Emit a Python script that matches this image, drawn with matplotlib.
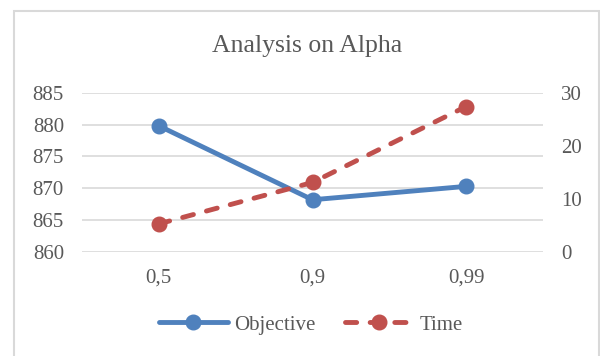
import matplotlib
matplotlib.use("Agg")
import matplotlib.pyplot as plt
from matplotlib.patches import Rectangle

# Δεδομένα του γραφήματος
alpha_labels = ["0,5", "0,9", "0,99"]
objective = [879.8, 868.2, 870.3]
time_vals = [5.3, 13.1, 27.4]

blue = "#4F81BD"
red = "#C0504D"
grey_text = "#595959"

plt.rcParams["font.family"] = ["Liberation Serif", "DejaVu Serif"]

fig = plt.figure(figsize=(6, 3.56), dpi=100)

# Πλαίσιο γύρω από το γράφημα
fig.patches.append(Rectangle((14 / 600, -0.01), 585 / 600, 1 - 11 / 356 + 0.01,
                             transform=fig.transFigure, fill=False,
                             edgecolor="#D9D9D9", linewidth=1.5))
# Υπότιτλος κομμένος στην πάνω άκρη, όπως στο πρωτότυπο
fig.text(0.51, 1 + 9 / 356, "(c)", ha="center", va="baseline", fontsize=15, color="#404040")

ax = fig.add_axes([82 / 600, 1 - 252 / 356, 461 / 600, (252 - 92.7) / 356])
ax2 = ax.twinx()

x = range(len(alpha_labels))
ax.plot(x, objective, color=blue, linewidth=3.5, marker="o", markersize=10.5,
        label="Objective", solid_capstyle="round")
ax2.plot(x, time_vals, color=red, linewidth=3.5, linestyle=(0, (2.3, 2.77)), marker="o",
         markersize=10.5, label="Time", dash_capstyle="round")

ax.set_xlim(-0.5, 2.5)
ax.set_ylim(860, 885)
ax.set_yticks(range(860, 886, 5))
ax2.set_ylim(0, 30)
ax2.set_yticks([0, 10, 20, 30])
ax.set_xticks(list(x))
ax.set_xticklabels(alpha_labels)

ax.grid(axis="y", color="#D9D9D9", linewidth=1.2)
ax.set_axisbelow(True)
for a in (ax, ax2):
    for s in a.spines.values():
        s.set_visible(False)
    a.tick_params(length=0, labelsize=15, labelcolor=grey_text)
ax.tick_params(axis="y", pad=13)
ax2.tick_params(axis="y", pad=13)
ax.tick_params(axis="x", pad=12)

fig.text(307 / 600, 1 - 46 / 356, "Analysis on Alpha", ha="center", va="center",
         fontsize=18.5, color=grey_text)

h1, l1 = ax.get_legend_handles_labels()
h2, l2 = ax2.get_legend_handles_labels()
fig.legend(h1 + h2, l1 + l2, loc="center", bbox_to_anchor=(311 / 600, 1 - 325 / 356),
           ncol=2, frameon=False, fontsize=15, labelcolor=grey_text,
           handlelength=3.3, columnspacing=1.4, handletextpad=0.3)

fig.savefig("out.png", dpi=100)
